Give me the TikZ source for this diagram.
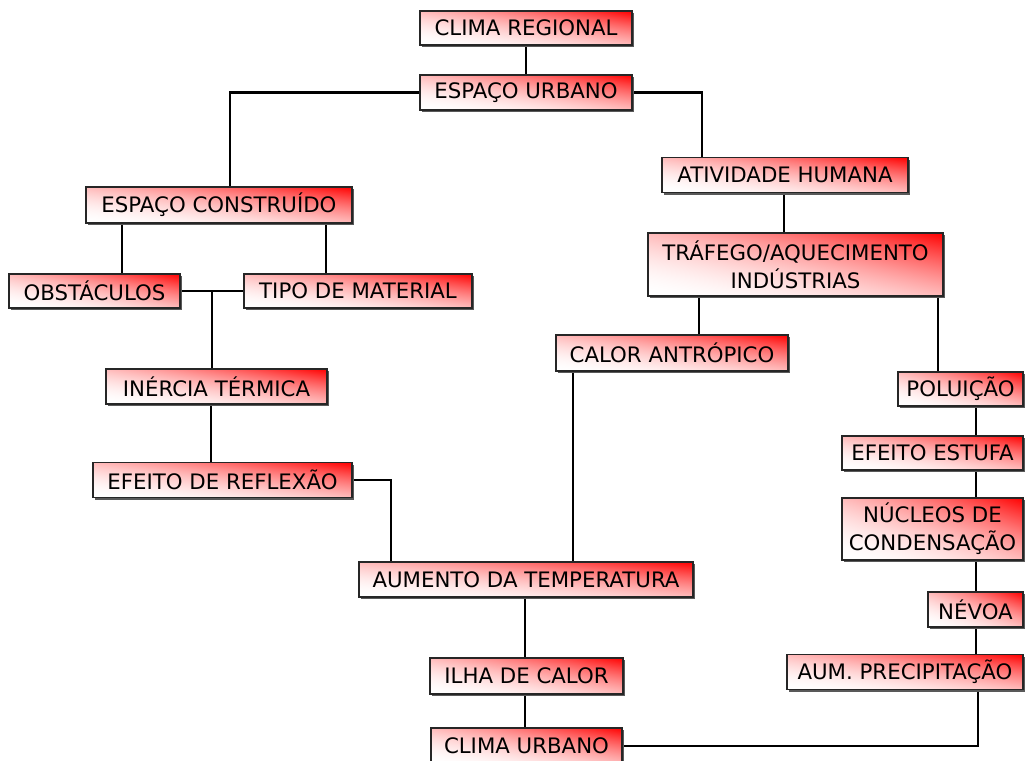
\documentclass[tikz,border=0pt]{standalone}
\usepackage{fontspec}
\setmainfont{DejaVu Sans}
\usetikzlibrary{shadows,backgrounds}
\pgfdeclarefunctionalshading{redcorner}{\pgfpoint{0bp}{0bp}}{\pgfpoint{100bp}{100bp}}{}{
  add 50 sub 100 div dup 0 lt {pop 0} if dup 1 gt {pop 1} if 1.9 exp 1 exch sub dup 1 3 1 roll
}
\tikzset{
  box/.style={draw=black!85, line width=1.4pt, shading=redcorner,
    general shadow={fill=black!65, shadow xshift=2pt, shadow yshift=-2pt},
    inner sep=0pt, align=center, font=\fontsize{21.3}{28}\selectfont, text=black},
  link/.style={draw=black, line width=2.2pt}
}
\begin{document}
\begin{tikzpicture}[x=1pt,y=-1pt]
\useasboundingbox (0,0) rectangle (1027,760);
\clip (0,0) rectangle (1027,760);
\node[box, minimum width=212pt, minimum height=34pt] (cr) at (526,28) {CLIMA REGIONAL};
\node[box, minimum width=212pt, minimum height=35pt] (eu) at (526,92.5) {ESPAÇO URBANO};
\node[box, minimum width=246pt, minimum height=35pt] (ah) at (785,175) {ATIVIDADE HUMANA};
\node[box, minimum width=266pt, minimum height=36pt] (ec) at (219,205) {ESPAÇO CONSTRUÍDO};
\node[box, minimum width=171pt, minimum height=34pt] (ob) at (94.5,291) {OBSTÁCULOS};
\node[box, minimum width=228pt, minimum height=34pt] (tm) at (358,291) {TIPO DE MATERIAL};
\node[box, minimum width=221pt, minimum height=35pt] (it) at (216.5,386.5) {INÉRCIA TÉRMICA};
\node[box, minimum width=259pt, minimum height=35pt] (er) at (222.5,480) {EFEITO DE REFLEXÃO};
\node[box, minimum width=295pt, minimum height=63pt] (ta) at (795.5,264.5) {TRÁFEGO/AQUECIMENTO\\INDÚSTRIAS};
\node[box, minimum width=232pt, minimum height=36pt] (ca) at (672,353) {CALOR ANTRÓPICO};
\node[box, minimum width=334pt, minimum height=35pt] (at) at (526,579.5) {AUMENTO DA TEMPERATURA};
\node[box, minimum width=193pt, minimum height=36pt] (ic) at (526.5,676) {ILHA DE CALOR};
\node[box, minimum width=191pt, minimum height=36pt] (cu) at (526.5,746) {CLIMA URBANO};
\node[box, minimum width=125pt, minimum height=34pt] (po) at (960.5,389) {POLUIÇÃO};
\node[box, minimum width=181pt, minimum height=34pt] (ee) at (932.5,453) {EFEITO ESTUFA};
\node[box, minimum width=181pt, minimum height=62pt] (nc) at (932.5,529) {NÚCLEOS DE\\CONDENSAÇÃO};
\node[box, minimum width=95pt, minimum height=35pt] (nv) at (975.5,609.5) {NÉVOA};
\node[box, minimum width=236pt, minimum height=35pt] (ap) at (905,672) {AUM. PRECIPITAÇÃO};
\coordinate (j1) at (212,291);
\begin{scope}[on background layer]
\draw[link] (cr.south) -- (eu.north);
\draw[link] (eu.west) -| (ec.north -| 230,0);
\draw[link] (eu.east) -| (ah.north -| 702,0);
\draw[link] (ec.south -| 122,0) -- (ob.north -| 122,0);
\draw[link] (ec.south -| 326,0) -- (tm.north -| 326,0);
\draw[link] (ob.east) -- (tm.west);
\draw[link] (j1) -- (it.north -| j1);
\draw[link] (it.south -| 211,0) -- (er.north -| 211,0);
\draw[link] (er.east) -| (at.north -| 391,0);
\draw[link] (ah.south -| 784,0) -- (ta.north -| 784,0);
\draw[link] (ta.south -| 699,0) -- (ca.north -| 699,0);
\draw[link] (ta.south -| 938,0) -- (po.north -| 938,0);
\draw[link] (ca.south -| 573,0) -- (at.north -| 573,0);
\draw[link] (at.south -| 525,0) -- (ic.north -| 525,0);
\draw[link] (ic.south -| 525,0) -- (cu.north -| 525,0);
\draw[link] (cu.east) -| (ap.south -| 978,0);
\draw[link] (po.south -| 976,0) -- (ee.north -| 976,0);
\draw[link] (ee.south -| 976,0) -- (nc.north -| 976,0);
\draw[link] (nc.south -| 976,0) -- (nv.north -| 976,0);
\draw[link] (nv.south -| 976,0) -- (ap.north -| 976,0);
\end{scope}
\end{tikzpicture}
\end{document}
